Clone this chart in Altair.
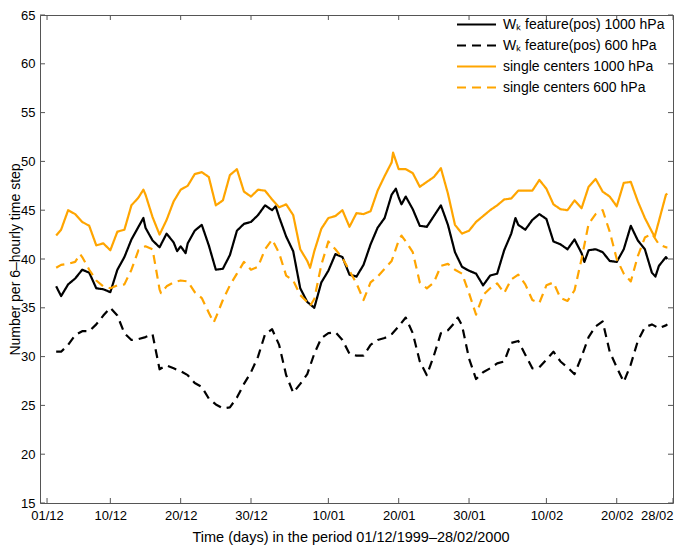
import altair as alt
import pandas as pd

# ---------------- data ----------------
names = [
    "W\u2096 feature(pos) 1000 hPa",
    "W\u2096 feature(pos) 600 hPa",
    "single centers 1000 hPa",
    "single centers 600 hPa",
]
colors = ["#000000", "#000000", "#FFA500", "#FFA500"]
dashes = [[1, 0], [9, 6], [1, 0], [9, 6]]

tick_days = [1, 10, 20, 30, 41, 51, 61, 72, 82, 90]
tick_labels = ["01/12", "10/12", "20/12", "30/12", "10/01", "20/01", "30/01", "10/02", "20/02", "28/02"]
y_ticks = [15, 20, 25, 30, 35, 40, 45, 50, 55, 60, 65]

wk1000_day = [2.3, 3, 4, 5, 6, 7, 8, 9, 10, 11, 12, 13, 14, 14.7, 15, 16, 17, 18, 19, 19.5, 20, 20.7, 21, 22,
              23, 24, 25, 26, 27, 28, 29, 30, 31, 32, 33, 33.5, 34, 35, 36, 37, 38, 39, 40, 41, 42, 43, 44,
              45, 46, 47, 48, 49, 50, 50.6, 51, 51.4, 52, 53, 54, 55, 56, 57, 58, 59, 60, 61, 62, 63, 64, 65, 66,
              67, 67.6, 68, 69, 70, 71, 72, 73, 74, 75, 76, 77, 77.4, 78, 79, 80, 81, 82, 83, 84, 85, 86, 87, 87.5,
              88, 89, 89.2]
wk1000_val = [37.2, 36.2, 37.4, 38.0, 38.9, 38.6, 37.0, 36.9, 36.6, 38.9, 40.2, 42.0, 43.3, 44.2, 43.2, 41.9, 41.2,
              42.6, 41.7, 40.8, 41.3, 40.6, 41.6, 42.9,
              43.5, 41.4, 38.9, 39.0, 40.4, 42.9, 43.6, 43.8, 44.5, 45.5, 45.0, 45.4, 44.3, 42.3, 40.8, 37.0, 35.6,
              35.0, 37.6, 38.8, 40.5, 40.2, 38.4,
              38.2, 39.4, 41.5, 43.2, 44.2, 46.6, 47.2, 46.3, 45.6, 46.4, 45.1, 43.4, 43.3, 44.4, 45.5, 43.5, 40.7,
              39.2, 38.8, 38.5, 37.3, 38.3, 38.5, 40.9,
              42.6, 44.2, 43.5, 43.0, 44.0, 44.6, 44.1, 41.8, 41.5, 41.0, 42.0, 40.6, 39.7, 40.9, 41.0, 40.7, 39.8,
              39.7, 41.0, 43.4, 41.9, 41.0, 38.6, 38.2, 39.3, 40.2, 40.0]

wk600_day = [2.3, 3, 4, 5, 6, 7, 8, 9, 10, 11, 12, 13, 14, 15, 16, 17, 18, 19, 20, 21, 22,
             23, 24, 25, 26, 27, 28, 29, 30, 31, 32, 33, 34, 35, 36, 37, 38, 39, 40, 41, 42, 43, 44,
             45, 46, 47, 48, 49, 50, 51, 52, 53, 54, 55, 56, 57, 58, 59, 59.4, 60, 61, 62, 63, 64, 65, 66,
             67, 68, 69, 70, 71, 72, 73, 74, 75, 76, 77, 78, 79, 80, 81, 82, 83, 84, 85, 86, 87, 88, 89, 89.2]
wk600_val = [30.5, 30.5, 31.2, 32.2, 32.6, 32.6, 33.3, 34.2, 35.0, 34.2, 32.4, 31.7, 31.8, 32.0, 32.3, 28.7, 29.1,
             28.8, 28.5, 28.1, 27.3,
             26.9, 25.7, 25.1, 24.7, 24.8, 25.8, 27.2, 28.4, 30.0, 32.3, 32.8, 31.2, 28.1, 26.3, 27.2, 28.2, 30.3,
             31.9, 32.4, 32.5, 31.7, 30.3,
             30.1, 30.1, 31.2, 31.7, 31.9, 32.3, 33.1, 34.0, 32.4, 29.5, 28.1, 30.1, 32.4, 32.7, 33.5, 34.0, 33.2,
             29.8, 27.7, 28.4, 28.8, 29.3, 29.5,
             31.4, 31.6, 30.2, 28.8, 28.9, 29.7, 30.5, 29.5, 28.9, 28.2, 30.0, 32.0, 33.1, 33.6, 30.5, 28.9, 27.4,
             29.2, 31.6, 33.0, 33.3, 32.9, 33.2, 33.3]

sc1000_day = [2.3, 3, 4, 5, 6, 7, 8, 9, 10, 11, 12, 13, 14, 14.7, 15, 16, 17, 18, 19, 20, 21, 22,
              23, 24, 25, 26, 27, 28, 29, 30, 31, 32, 33, 34, 35, 36, 37, 38, 38.4, 39, 40, 41, 42, 43, 44,
              45, 46, 47, 48, 49, 50, 50.2, 51, 52, 53, 54, 55, 56, 57, 58, 59, 60, 61, 62, 63, 64, 65, 66,
              67, 68, 69, 70, 71, 72, 73, 74, 75, 76, 77, 78, 79, 80, 81, 82, 83, 84, 85, 86, 87, 87.4, 88, 89, 89.2]
sc1000_val = [42.4, 43.0, 45.0, 44.6, 43.8, 43.4, 41.4, 41.6, 40.9, 42.8, 43.0, 45.5, 46.3, 47.1, 46.6, 44.3, 42.5,
              44.0, 45.9, 47.1, 47.5, 48.7,
              48.9, 48.4, 45.5, 46.0, 48.6, 49.2, 46.9, 46.4, 47.1, 47.0, 46.1, 45.3, 45.6, 44.5, 41.0, 39.8, 39.1,
              40.8, 43.1, 44.2, 44.4, 45.0, 43.3,
              44.7, 44.6, 44.9, 47.0, 48.5, 49.9, 50.9, 49.2, 49.2, 48.8, 47.4, 47.9, 48.4, 49.3, 46.7, 43.5, 42.6,
              42.9, 43.8, 44.4, 45.0, 45.5, 46.1,
              46.2, 47.0, 47.0, 47.0, 48.1, 47.2, 45.6, 45.1, 45.0, 46.0, 45.2, 47.4, 48.2, 46.9, 46.4, 45.4, 47.8,
              47.9, 45.9, 44.2, 42.8, 42.3, 43.9, 46.6, 46.7]

sc600_day = [2.3, 3, 4, 5, 5.7, 6, 7, 8, 9, 10, 11, 12, 13, 14, 15, 16, 17, 17.2, 18, 19, 20, 21, 22,
             23, 24, 24.7, 25, 26, 27, 28, 29, 30, 31, 32, 33, 34, 35, 36, 37, 38, 38.4, 39, 40, 41, 42, 43, 44,
             45, 46, 47, 48, 49, 50, 51, 51.4, 52, 53, 54, 55, 56, 57, 58, 59, 60, 61, 62, 63, 64, 65, 66,
             67, 68, 69, 70, 71, 72, 73, 74, 75, 76, 77, 78, 79, 80, 81, 82, 83, 84, 85, 86, 87, 88, 89, 89.2]
sc600_val = [39.1, 39.4, 39.5, 39.7, 40.5, 40.2, 38.9, 37.8, 37.2, 37.0, 37.3, 37.4, 38.9, 40.9, 41.3, 41.0, 36.9,
             36.5, 37.2, 37.6, 37.8, 37.7, 36.6,
             36.0, 34.5, 33.5, 34.0, 35.8, 37.3, 38.5, 39.7, 38.9, 39.2, 41.0, 42.0, 40.6, 38.3, 37.8, 36.3, 35.6,
             35.2, 35.9, 39.4, 41.8, 41.0, 40.1, 38.8,
             37.5, 35.8, 37.6, 38.2, 39.0, 39.8, 41.9, 42.4, 41.8, 40.7, 37.6, 37.0, 37.6, 39.3, 39.5, 38.9, 38.5,
             36.5, 34.3, 36.3, 37.0, 37.5, 36.5,
             37.9, 38.4, 37.4, 35.8, 35.5, 37.3, 37.6, 36.0, 35.7, 36.8, 40.0, 43.6, 44.6, 45.0, 42.8, 40.0, 38.5,
             37.7, 40.3, 42.2, 42.6, 41.5, 41.2, 41.2]

series = [
    (names[0], wk1000_day, wk1000_val),
    (names[1], wk600_day, wk600_val),
    (names[2], sc1000_day, sc1000_val),
    (names[3], sc600_day, sc600_val),
]

# ---------------- chart ----------------
W, H = 633, 488
FONT = "Liberation Sans"
FRAME = "#555555"

label_expr = " : ".join(
    f"datum.value == {d} ? '{l}'" for d, l in zip(tick_days, tick_labels)
) + " : ''"

xscale = alt.Scale(domain=[0, 90], nice=False, zero=False)
yscale = alt.Scale(domain=[15, 65], nice=False, zero=False)

legend = alt.Legend(
    title=None, orient="none", legendX=429, legendY=2,
    symbolType="M-3,0H3", symbolSize=169, symbolStrokeWidth=2,
    labelFont=FONT, labelFontSize=14, labelColor="black",
    labelOffset=19, rowPadding=6, padding=0, labelLimit=300,
)
color_enc = alt.Color("series:N", scale=alt.Scale(domain=names, range=colors), legend=legend)
dash_enc = alt.StrokeDash("series:N", scale=alt.Scale(domain=names, range=dashes), legend=legend)

x_axis = alt.Axis(
    values=tick_days, labelExpr=label_expr, title="Time (days) in the period 01/12/1999–28/02/2000",
    ticks=False, domain=False, grid=False, labelPadding=6, labelFlush=True, labelOverlap=False,
    titleX=310.5, titleY=38.7, titleBaseline="alphabetic", titleAlign="center",
)
y_axis = alt.Axis(
    values=y_ticks, title="Number per 6–hourly time step",
    ticks=False, domain=False, grid=False, labelPadding=5,
    titleX=-24.3, titleBaseline="middle", titleAngle=270, titleAlign="center", titleFontSize=14,
)

X = alt.X("day:Q", scale=xscale, axis=x_axis)
Y = alt.Y("value:Q", scale=yscale, axis=y_axis)

layers = []
for name, d, v in series:
    df = pd.DataFrame({"day": d, "value": v, "series": name})
    layers.append(
        alt.Chart(df).mark_line(strokeWidth=2.2, strokeCap="butt", strokeJoin="round").encode(
            x=X, y=Y, color=color_enc, strokeDash=dash_enc,
        )
    )

xt = pd.DataFrame({"day": tick_days})
yt = pd.DataFrame({"value": y_ticks})
tick_layers = [
    alt.Chart(xt).mark_rule(color=FRAME, strokeWidth=1).encode(
        x=X, y=alt.value(H), y2=alt.value(H - 5)),
    alt.Chart(xt).mark_rule(color=FRAME, strokeWidth=1).encode(
        x=X, y=alt.value(0), y2=alt.value(5)),
    alt.Chart(yt).mark_rule(color=FRAME, strokeWidth=1).encode(
        y=Y, x=alt.value(0), x2=alt.value(5)),
    alt.Chart(yt).mark_rule(color=FRAME, strokeWidth=1).encode(
        y=Y, x=alt.value(W), x2=alt.value(W - 5)),
]

chart = alt.layer(*layers, *tick_layers).properties(
    width=W, height=H,
    autosize=alt.AutoSizeParams(type="none"),
    padding={"left": 32, "top": 7, "right": 1, "bottom": 42},
    background="white",
).configure_view(
    stroke=FRAME, strokeWidth=1,
).configure_axis(
    labelFont=FONT, labelFontSize=13, labelColor="black",
    titleFont=FONT, titleFontSize=14.5, titleFontWeight="normal", titleColor="black",
)

chart.save("out.html", embed_options={"renderer": "svg", "actions": False})
